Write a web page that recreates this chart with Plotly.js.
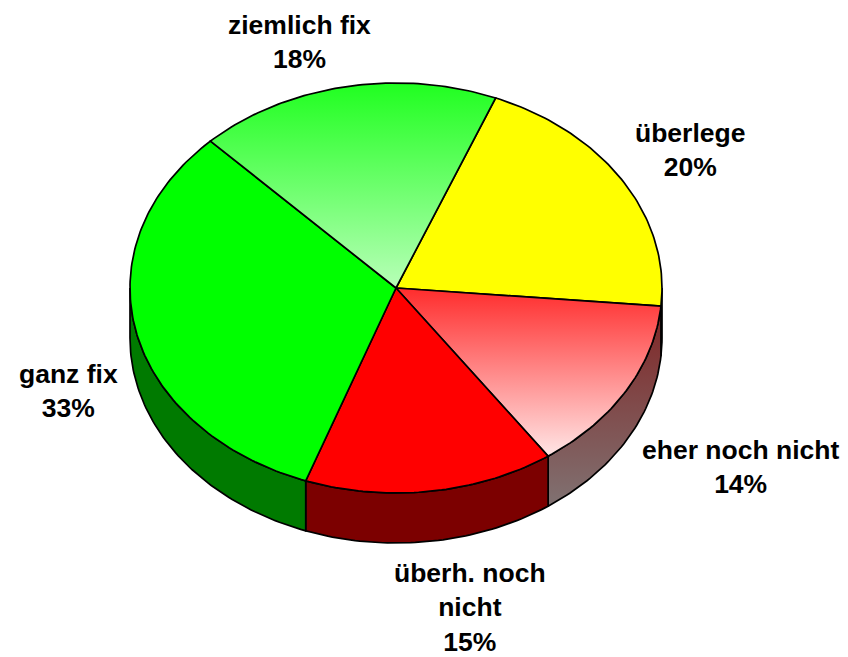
<!DOCTYPE html>
<html>
<head>
<meta charset="utf-8">
<script src="https://cdn.plot.ly/plotly-3.0.1.min.js"></script>
<style>html,body{margin:0;padding:0;background:#fff}#chart{width:848px;height:657px}</style>
</head>
<body>
<div id="chart"></div>
<script>
// Data, clockwise from the slice after "ziemlich fix"
const categories = ['überlege', 'eher noch nicht', 'überh. noch nicht', 'ganz fix', 'ziemlich fix'];
const values = [20.3, 13.9, 15.2, 32.2, 18.4];
const percentLabels = ['20%', '14%', '15%', '33%', '18%'];
const labelLines = [['überlege'], ['eher noch nicht'], ['überh. noch', 'nicht'], ['ganz fix'], ['ziemlich fix']];
const labelX = [690, 740, 470, 68, 299];
const labelY = [150, 467, 607, 391, 42];
const topFills = [
  ['#ffff00', '#ffff00'], ['#ff2c2c', '#ffe6e6'], ['#ff0000', '#ff0000'],
  ['#00ff00', '#00ff00'], ['#20ff20', '#b8ffb8']
];
const sideFills = [
  ['#808000', '#808000'], ['#802424', '#807272'], ['#7c0000', '#7c0000'],
  ['#007a00', '#007a00'], ['#007a00', '#007a00']
];

const cx = 396, cy = 288, rx = 266, ry = 205, depth = 50, startDeg = 22;
const pt = (d, off) => {
  const r = d * Math.PI / 180;
  return [cx + rx * Math.sin(r), cy - ry * Math.cos(r) + off];
};
const total = values.reduce((a, b) => a + b, 0);
const fillOf = c => c[0] === c[1]
  ? {fill: 'toself', fillcolor: c[0]}
  : {fill: 'toself', fillgradient: {type: 'vertical', colorscale: [[0, c[1]], [1, c[0]]]}};
const line = {color: '#000', width: 1.7};
const sideTraces = [], topTraces = [];
let a = startDeg;
values.forEach((v, i) => {
  const b = a + v / total * 360;
  const s = Math.max(a, 90), e = Math.min(b, 270);
  if (e > s) {
    const xs = [], ys = [];
    for (let d = s; d < e; d += 1) { const p = pt(d, 0); xs.push(p[0]); ys.push(p[1]); }
    const pe = pt(e, 0), pf = pt(e, depth); xs.push(pe[0], pf[0]); ys.push(pe[1], pf[1]);
    for (let d = e - 1; d > s; d -= 1) { const p = pt(d, depth); xs.push(p[0]); ys.push(p[1]); }
    const ps = pt(s, depth); xs.push(ps[0], xs[0]); ys.push(ps[1], ys[0]);
    sideTraces.push(Object.assign({x: xs, y: ys, mode: 'lines', line, hoverinfo: 'skip', name: categories[i] + ' side'}, fillOf(sideFills[i])));
  }
  const xs = [cx], ys = [cy];
  for (let d = a; d < b; d += 1) { const p = pt(d, 0); xs.push(p[0]); ys.push(p[1]); }
  const p = pt(b, 0); xs.push(p[0], cx); ys.push(p[1], cy);
  topTraces.push(Object.assign({x: xs, y: ys, mode: 'lines', line, hoverinfo: 'skip', name: categories[i]}, fillOf(topFills[i])));
  a = b;
});

const annotations = categories.map((c, i) => ({
  x: labelX[i], y: labelY[i], xref: 'x', yref: 'y', showarrow: false,
  text: labelLines[i].concat(percentLabels[i]).join('<br>'),
  font: {family: 'Liberation Sans, Arial, sans-serif', size: 26.5, color: '#000', weight: 700},
  align: 'center', xanchor: 'center', yanchor: 'middle'
}));

Plotly.newPlot('chart', sideTraces.concat(topTraces), {
  width: 848, height: 657, showlegend: false,
  margin: {l: 0, r: 0, t: 0, b: 0},
  paper_bgcolor: '#fff', plot_bgcolor: '#fff',
  xaxis: {range: [0, 848], visible: false, fixedrange: true},
  yaxis: {range: [657, 0], visible: false, fixedrange: true},
  annotations
}, {staticPlot: true, displayModeBar: false});
</script>
</body>
</html>
